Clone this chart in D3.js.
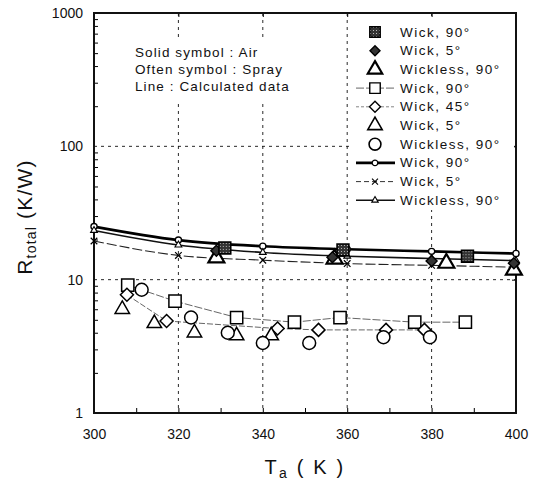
<!DOCTYPE html>
<html><head><meta charset="utf-8">
<script src="https://cdn.jsdelivr.net/npm/d3@7"></script>
<style>body{margin:0;background:#fff}svg{display:block}text{font-family:"Liberation Sans",Arial,sans-serif;fill:#111}</style>
</head><body><svg id="c" width="534" height="486"></svg>
<script>
// ---- data ----
const xTicks = [300, 320, 340, 360, 380, 400];
const yTicks = [1, 10, 100, 1000];
const calcT = [300, 320, 340, 360, 380, 400];
const calcWick90 = [25.0, 19.8, 17.8, 16.9, 16.3, 15.7];
const calcWick5 = [19.5, 15.2, 14.0, 13.2, 12.8, 12.4];
const calcWickless90 = [23.4, 18.2, 16.0, 15.0, 14.4, 13.9];
const airWick90T = [331, 359, 388.5];
const airWick90R = [17.3, 16.7, 15.0];
const airWick5T = [329, 356.5, 380, 399.5];
const airWick5R = [16.5, 14.7, 13.8, 13.3];
const airWickless90T = [329, 357, 383.5, 399.5];
const airWickless90R = [14.6, 14.3, 13.3, 11.8];
const sprWick90T = [308, 319.2, 333.8, 347.5, 358.3, 376, 388];
const sprWick90R = [9.1, 6.9, 5.2, 4.8, 5.2, 4.8, 4.8];
const sprWick45T = [307.8, 317.2, 343.5, 353.2, 369.2, 378.3];
const sprWick45R = [7.7, 4.9, 4.3, 4.2, 4.2, 4.2];
const sprWick5T = [306.7, 314.3, 323.8, 333.8, 342];
const sprWick5R = [6.0, 4.7, 4.0, 3.8, 3.8];
const sprWickless90T = [311.3, 323, 331.7, 340, 351, 368.6, 379.6];
const sprWickless90R = [8.4, 5.2, 4.0, 3.35, 3.35, 3.7, 3.7];
const notes = ["Solid symbol : Air", "Often symbol : Spray", "Line : Calculated data"];
const legendLabels = ["Wick, 90°", "Wick, 5°", "Wickless, 90°", "Wick, 90°", "Wick, 45°", "Wick, 5°", "Wickless, 90°", "Wick, 90°", "Wick, 5°", "Wickless, 90°"];

// ---- layout ----
const L = 94, R = 516, T = 13, B = 413;
const svg = d3.select("#c");
const x = d3.scaleLinear().domain([300, 400]).range([L, R]);
const y = d3.scaleLog().domain([1, 1000]).range([B, T]);
const zip = (a, b) => a.map((v, i) => [v, b[i]]);

const defs = svg.append("defs");
const pat = defs.append("pattern").attr("id", "hatch").attr("width", 3).attr("height", 3).attr("patternUnits", "userSpaceOnUse");
pat.append("rect").attr("width", 3).attr("height", 3).attr("fill", "#333");
pat.append("rect").attr("x", 1).attr("y", 1).attr("width", 1).attr("height", 1).attr("fill", "#bbb");

// grid
const grid = svg.append("g").attr("stroke", "#111").attr("stroke-width", 0.9).attr("stroke-dasharray", "3,4");
grid.selectAll("line.v").data([320, 340, 360, 380]).enter().append("line")
  .attr("x1", d => x(d)).attr("x2", d => x(d)).attr("y1", T).attr("y2", B);
grid.selectAll("line.h").data([10, 100]).enter().append("line")
  .attr("x1", L).attr("x2", R).attr("y1", d => y(d)).attr("y2", d => y(d));

// notes (with white background)
const noteG = svg.append("g");
noteG.append("rect").attr("x", 130).attr("y", 38).attr("width", 190).attr("height", 62).attr("fill", "#fff");
noteG.selectAll("text").data(notes).enter().append("text")
  .attr("x", 135).attr("y", (d, i) => 57 + i * 17).attr("font-size", 13.5).attr("letter-spacing", 1.1).text(d => d);

// axes
const minor = [];
for (let e = 0; e < 3; e++) for (let m = 2; m <= 9; m++) minor.push(m * Math.pow(10, e));
svg.append("g").attr("transform", `translate(${L},0)`)
  .call(d3.axisRight(y).tickValues(minor).tickSize(4).tickFormat(""))
  .call(g => g.select(".domain").remove());
svg.append("g").attr("transform", `translate(${L},0)`)
  .call(d3.axisLeft(y).tickValues(yTicks).tickSize(0).tickPadding(11).tickFormat(d3.format("d")))
  .call(g => g.select(".domain").remove())
  .selectAll("text").attr("font-size", 14).attr("font-family", "Liberation Sans, Arial").attr("fill", "#111");
svg.append("g").attr("transform", `translate(0,${B})`)
  .call(d3.axisTop(x).tickValues(d3.range(310, 400, 10)).tickSize(5).tickFormat(""))
  .call(g => g.select(".domain").remove());
svg.append("g").attr("transform", `translate(0,${B})`)
  .call(d3.axisBottom(x).tickValues(xTicks).tickSize(0).tickPadding(16).tickFormat(d3.format("d")))
  .call(g => g.select(".domain").remove())
  .selectAll("text").attr("font-size", 14).attr("font-family", "Liberation Sans, Arial").attr("fill", "#111");
svg.append("g").attr("transform", `translate(0,${T})`)
  .call(d3.axisBottom(x).tickValues([320, 340, 360, 380]).tickSize(4).tickFormat(""))
  .call(g => g.select(".domain").remove());
svg.append("g").attr("transform", `translate(${R},0)`)
  .call(d3.axisLeft(y).tickValues([10, 100]).tickSize(4).tickFormat(""))
  .call(g => g.select(".domain").remove());
svg.append("rect").attr("x", L).attr("y", T).attr("width", R - L).attr("height", B - T)
  .attr("fill", "none").attr("stroke", "#111").attr("stroke-width", 2);

// axis titles
const yt = svg.append("text").attr("transform", `translate(32,${(T + B) / 2 + 4}) rotate(-90)`).attr("text-anchor", "middle").attr("font-size", 21).attr("letter-spacing", 1.2);
yt.append("tspan").text("R");
yt.append("tspan").attr("font-size", 14).attr("dy", 4).text("total");
yt.append("tspan").attr("dy", -4).text(" (K/W)");
const xt = svg.append("text").attr("x", (L + R) / 2).attr("y", 474).attr("text-anchor", "middle").attr("font-size", 20).attr("letter-spacing", 2.2);
xt.append("tspan").text("T");
xt.append("tspan").attr("font-size", 14).attr("dy", 4).text("a");
xt.append("tspan").attr("dy", -4).text(" ( K )");

// lines
const line = d3.line().x(d => x(d[0])).y(d => y(d[1])).curve(d3.curveMonotoneX);
const lineL = d3.line().x(d => x(d[0])).y(d => y(d[1]));
const plot = svg.append("g");
plot.append("path").attr("d", lineL(zip(sprWick90T, sprWick90R))).attr("fill", "none").attr("stroke", "#555").attr("stroke-width", 0.9).attr("stroke-dasharray", "8,2");
plot.append("path").attr("d", lineL(zip(sprWick45T, sprWick45R))).attr("fill", "none").attr("stroke", "#555").attr("stroke-width", 0.9).attr("stroke-dasharray", "6,2");
plot.append("path").attr("d", line(zip(calcT, calcWick5))).attr("fill", "none").attr("stroke", "#222").attr("stroke-width", 1.1).attr("stroke-dasharray", "10,3");
plot.append("path").attr("d", line(zip(calcT, calcWickless90))).attr("fill", "none").attr("stroke", "#111").attr("stroke-width", 1.6);
plot.append("path").attr("d", line(zip(calcT, calcWick90))).attr("fill", "none").attr("stroke", "#000").attr("stroke-width", 2.6);

const sym = (type, size) => d3.symbol().type(type).size(size)();
const diamond = r => `M0,${-r}L${r},0L0,${r}L${-r},0Z`;
function pts(T_, R_, path, fill, stroke, sw) {
  plot.append("g").selectAll("path").data(zip(T_, R_)).enter().append("path")
    .attr("transform", d => `translate(${x(d[0])},${y(d[1])})`)
    .attr("d", path).attr("fill", fill).attr("stroke", stroke).attr("stroke-width", sw);
}
// calc markers
pts(calcT, calcWick90, sym(d3.symbolCircle, 30), "#fff", "#000", 1.3);
pts(calcT, calcWick5, sym(d3.symbolTimes, 30), "none", "#000", 1.2);
pts(calcT, calcWickless90, sym(d3.symbolTriangle, 20), "#fff", "#000", 1.1);
// spray (open)
pts(sprWick90T, sprWick90R, sym(d3.symbolSquare, 150), "#fff", "#000", 1.5);
pts(sprWick45T, sprWick45R, diamond(6.5), "#fff", "#000", 1.5);
pts(sprWick5T, sprWick5R, sym(d3.symbolTriangle, 90), "#fff", "#000", 1.5);
pts(sprWickless90T, sprWickless90R, sym(d3.symbolCircle, 130), "#fff", "#000", 1.5);
// air (solid)
pts(airWickless90T, airWickless90R, sym(d3.symbolTriangle, 110), "#fff", "#000", 2.2);
pts(airWick5T, airWick5R, diamond(5.5), "#333", "#000", 1.4);
pts(airWick90T, airWick90R, sym(d3.symbolSquare, 140), "url(#hatch)", "#000", 1.6);

// legend
const lg = svg.append("g");
lg.append("rect").attr("x", 350).attr("y", 20).attr("width", 164).attr("height", 190).attr("fill", "#fff");
const ly0 = 32, ldy = 18.7, sx = 375, tx = 400;
const legendSyms = [
  {p: sym(d3.symbolSquare, 110), f: "url(#hatch)", s: "#000", w: 1.4},
  {p: diamond(5), f: "#333", s: "#000", w: 1.4},
  {p: sym(d3.symbolTriangle, 90), f: "#fff", s: "#000", w: 2.2},
  {p: sym(d3.symbolSquare, 110), f: "#fff", s: "#000", w: 1.4, line: {w: 0.9, d: "8,2", c: "#555"}},
  {p: diamond(5.5), f: "#fff", s: "#000", w: 1.4, line: {w: 0.9, d: "3,2", c: "#777"}},
  {p: sym(d3.symbolTriangle, 90), f: "#fff", s: "#000", w: 1.6},
  {p: sym(d3.symbolCircle, 110), f: "#fff", s: "#000", w: 1.6},
  {p: sym(d3.symbolCircle, 25), f: "#fff", s: "#000", w: 1.3, line: {w: 2.6, d: null, c: "#000"}},
  {p: sym(d3.symbolTimes, 25), f: "none", s: "#000", w: 1.1, line: {w: 1, d: "5,3", c: "#333"}},
  {p: sym(d3.symbolTriangle, 18), f: "#fff", s: "#000", w: 1.1, line: {w: 1.6, d: null, c: "#111"}}
];
legendSyms.forEach((s, i) => {
  const yy = ly0 + i * ldy;
  if (s.line) lg.append("line").attr("x1", sx - 19).attr("x2", sx + 20).attr("y1", yy).attr("y2", yy)
    .attr("stroke", s.line.c).attr("stroke-width", s.line.w).attr("stroke-dasharray", s.line.d);
  lg.append("path").attr("transform", `translate(${sx},${yy})`).attr("d", s.p)
    .attr("fill", s.f).attr("stroke", s.s).attr("stroke-width", s.w);
});
lg.selectAll("text").data(legendLabels).enter().append("text")
  .attr("x", tx).attr("y", (d, i) => ly0 + i * ldy + 4.5).attr("font-size", 13.5).attr("letter-spacing", 1.5).text(d => d);
</script></body></html>
